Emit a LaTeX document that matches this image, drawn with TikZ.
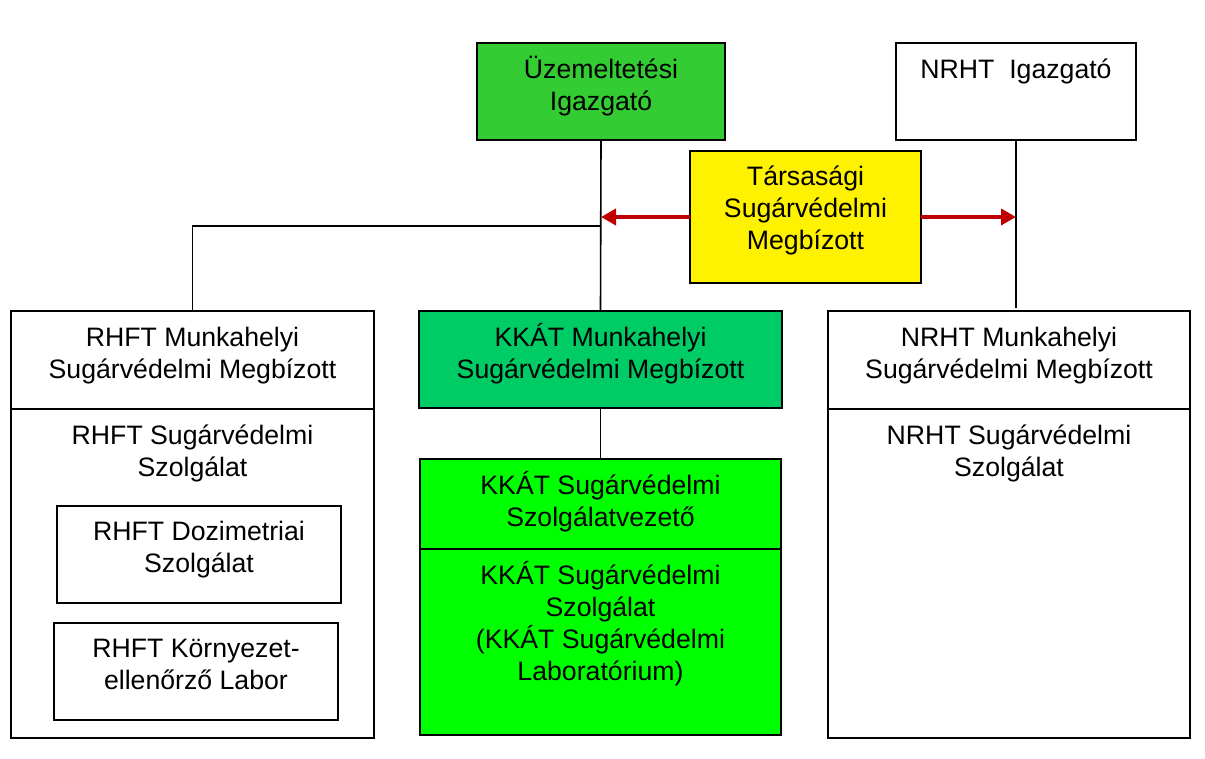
\documentclass[tikz,border=0pt]{standalone}
\usepackage{fontspec}
\setmainfont{Liberation Sans}
\usetikzlibrary{arrows.meta}
\definecolor{uzemgreen}{RGB}{51,204,51}
\definecolor{kkatgreen}{RGB}{0,204,102}
\definecolor{limegreen}{RGB}{0,255,0}
\definecolor{arrowred}{RGB}{192,0,0}
\begin{document}
\begin{tikzpicture}[x=1pt,y=-1pt,
  box/.style={draw=black, line width=2.5pt, inner sep=0pt, outer sep=0pt, anchor=north west},
  txt/.style={font=\fontsize{26.67}{32}\selectfont, align=center, inner sep=0pt, anchor=north},
  conn/.style={draw=black, line width=1.6pt},
  divider/.style={draw=black, line width=2.5pt},
  redarrow/.style={draw=arrowred, line width=4pt, -{Triangle[length=15pt,width=16pt]}}]
\useasboundingbox (0,0) rectangle (1205,758);
\fill[white] (0,0) rectangle (1205,758);

\coordinate (junc) at (601,226);
\coordinate (dv1) at (0,409);
\coordinate (dv2) at (0,549);

% boxes
\node[box, fill=uzemgreen, minimum width=248pt, minimum height=97pt] (uzem) at (477,43) {};
\node[box, fill=white, minimum width=240pt, minimum height=97pt] (nrhtig) at (896,43) {};
\node[box, fill=white, minimum width=363pt, minimum height=427pt] (rhft) at (11,311) {};
\node[box, fill=kkatgreen, minimum width=363pt, minimum height=97pt] (kkatm) at (419,311) {};
\node[box, fill=limegreen, minimum width=361pt, minimum height=276pt] (kkats) at (420,459) {};
\node[box, fill=white, minimum width=362pt, minimum height=427pt] (nrht) at (828,311) {};
\node[box, minimum width=284pt, minimum height=97pt] (dozi) at (57,506) {};
\node[box, minimum width=284pt, minimum height=97pt] (korny) at (54,623) {};

% connectors
\draw[conn] (uzem.south) -- (kkatm.north);
\draw[conn] (rhft.north) |- (junc);
\draw[conn] (nrhtig.south) -- ([yshift=3pt]nrhtig.south |- nrht.north);
\draw[conn] (kkatm.south) -- (kkats.north);

\node[box, fill=yellow, minimum width=231pt, minimum height=132pt] (tars) at (690,151) {};

% dividers
\draw[divider] (rhft.west |- dv1) -- (rhft.east |- dv1);
\draw[divider] (nrht.west |- dv1) -- (nrht.east |- dv1);
\draw[divider] (kkats.west |- dv2) -- (kkats.east |- dv2);

% red arrows
\draw[redarrow] (tars.west) -- (uzem.south |- tars.west);
\draw[redarrow] (tars.east) -- (nrhtig.south |- tars.east);

% texts
\node[txt] (t-uzem) at ([yshift=-12.6pt]uzem.north) {\strut Üzemeltetési\\Igazgató};
\node[txt] (t-nrhtig) at ([yshift=-12.6pt]nrhtig.north) {\strut NRHT\ \ Igazgató};
\node[txt] (t-tars) at ([yshift=-12pt]tars.north) {\strut Társasági\\Sugárvédelmi\\Megbízott};
\node[txt] (t-rhftm) at ([yshift=-12.6pt]rhft.north) {\strut RHFT Munkahelyi\\Sugárvédelmi Megbízott};
\node[txt] (t-rhfts) at ([yshift=-12.6pt]rhft.north |- dv1) {\strut RHFT Sugárvédelmi\\Szolgálat};
\node[txt] (t-dozi) at ([yshift=-12pt]dozi.north) {\strut RHFT Dozimetriai\\Szolgálat};
\node[txt] (t-korny) at ([yshift=-12pt]korny.north) {\strut RHFT Környezet-\\ellenőrző Labor};
\node[txt] (t-kkatm) at ([yshift=-12.6pt]kkatm.north) {\strut KKÁT Munkahelyi\\Sugárvédelmi Megbízott};
\node[txt] (t-kkatv) at ([yshift=-12.6pt]kkats.north) {\strut KKÁT Sugárvédelmi\\Szolgálatvezető};
\node[txt] (t-kkats) at ([yshift=-12.6pt]kkats.north |- dv2) {\strut KKÁT Sugárvédelmi\\Szolgálat\\(KKÁT Sugárvédelmi\\Laboratórium)};
\node[txt] (t-nrhtm) at ([yshift=-12.6pt]nrht.north) {\strut NRHT Munkahelyi\\Sugárvédelmi Megbízott};
\node[txt] (t-nrhts) at ([yshift=-12.6pt]nrht.north |- dv1) {\strut NRHT Sugárvédelmi\\Szolgálat};
\end{tikzpicture}
\end{document}
